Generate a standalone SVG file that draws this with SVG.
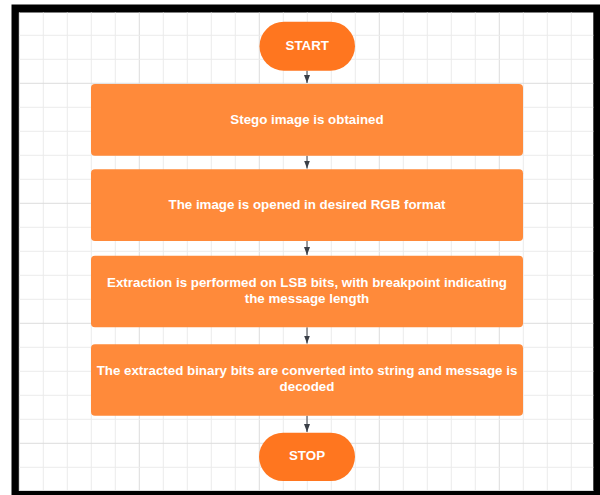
<svg xmlns="http://www.w3.org/2000/svg" width="600" height="495" viewBox="0 0 600 495">
<style>
.g{stroke:#ececec;stroke-width:1}
.gd{stroke:#dcdcdc;stroke-width:1}
.pill{fill:#ff761f}
.box{fill:#ff8a3a}
.t{font-family:"Liberation Sans",Arial,sans-serif;font-weight:bold;font-size:13.33px;fill:#ffffff;text-anchor:middle}
.c{stroke:#3a3f47;stroke-width:1;fill:none}
</style>
<defs>
<marker id="ah" markerWidth="8" markerHeight="6" refX="8" refY="3" orient="auto" markerUnits="userSpaceOnUse" viewBox="0 0 8 6">
<path d="M0,0 L8,3 L0,6 Z" fill="#3a3f47"/>
</marker>
</defs>
<rect x="0" y="0" width="600" height="495" fill="#ffffff"/>
<rect x="11.5" y="4.5" width="590" height="492" fill="#000000"/>
<rect x="19" y="12.5" width="574.3" height="478.5" fill="#ffffff"/>
<g id="grid">
<line class="gd" x1="19.3" y1="12.5" x2="19.3" y2="491"/>
<line class="g" x1="43.3" y1="12.5" x2="43.3" y2="491"/>
<line class="g" x1="67.3" y1="12.5" x2="67.3" y2="491"/>
<line class="g" x1="91.3" y1="12.5" x2="91.3" y2="491"/>
<line class="g" x1="115.3" y1="12.5" x2="115.3" y2="491"/>
<line class="gd" x1="139.3" y1="12.5" x2="139.3" y2="491"/>
<line class="g" x1="163.3" y1="12.5" x2="163.3" y2="491"/>
<line class="g" x1="187.3" y1="12.5" x2="187.3" y2="491"/>
<line class="g" x1="211.3" y1="12.5" x2="211.3" y2="491"/>
<line class="g" x1="235.3" y1="12.5" x2="235.3" y2="491"/>
<line class="gd" x1="259.3" y1="12.5" x2="259.3" y2="491"/>
<line class="g" x1="283.3" y1="12.5" x2="283.3" y2="491"/>
<line class="g" x1="307.3" y1="12.5" x2="307.3" y2="491"/>
<line class="g" x1="331.3" y1="12.5" x2="331.3" y2="491"/>
<line class="g" x1="355.3" y1="12.5" x2="355.3" y2="491"/>
<line class="gd" x1="379.3" y1="12.5" x2="379.3" y2="491"/>
<line class="g" x1="403.3" y1="12.5" x2="403.3" y2="491"/>
<line class="g" x1="427.3" y1="12.5" x2="427.3" y2="491"/>
<line class="g" x1="451.3" y1="12.5" x2="451.3" y2="491"/>
<line class="g" x1="475.3" y1="12.5" x2="475.3" y2="491"/>
<line class="gd" x1="499.3" y1="12.5" x2="499.3" y2="491"/>
<line class="g" x1="523.3" y1="12.5" x2="523.3" y2="491"/>
<line class="g" x1="547.3" y1="12.5" x2="547.3" y2="491"/>
<line class="g" x1="571.3" y1="12.5" x2="571.3" y2="491"/>
<line class="g" x1="19" y1="35.3" x2="593.3" y2="35.3"/>
<line class="g" x1="19" y1="59.3" x2="593.3" y2="59.3"/>
<line class="gd" x1="19" y1="83.3" x2="593.3" y2="83.3"/>
<line class="g" x1="19" y1="107.3" x2="593.3" y2="107.3"/>
<line class="g" x1="19" y1="131.3" x2="593.3" y2="131.3"/>
<line class="g" x1="19" y1="155.3" x2="593.3" y2="155.3"/>
<line class="g" x1="19" y1="179.3" x2="593.3" y2="179.3"/>
<line class="gd" x1="19" y1="203.3" x2="593.3" y2="203.3"/>
<line class="g" x1="19" y1="227.3" x2="593.3" y2="227.3"/>
<line class="g" x1="19" y1="251.3" x2="593.3" y2="251.3"/>
<line class="g" x1="19" y1="275.3" x2="593.3" y2="275.3"/>
<line class="g" x1="19" y1="299.3" x2="593.3" y2="299.3"/>
<line class="gd" x1="19" y1="323.3" x2="593.3" y2="323.3"/>
<line class="g" x1="19" y1="347.3" x2="593.3" y2="347.3"/>
<line class="g" x1="19" y1="371.3" x2="593.3" y2="371.3"/>
<line class="g" x1="19" y1="395.3" x2="593.3" y2="395.3"/>
<line class="g" x1="19" y1="419.3" x2="593.3" y2="419.3"/>
<line class="gd" x1="19" y1="443.3" x2="593.3" y2="443.3"/>
<line class="g" x1="19" y1="467.3" x2="593.3" y2="467.3"/>
<line class="gd" x1="19" y1="490.5" x2="593.3" y2="490.5"/>
</g>
<g id="connectors">
<line class="c" x1="307" y1="70.7" x2="307" y2="83" marker-end="url(#ah)"/>
<line class="c" x1="307" y1="155.7" x2="307" y2="168.5" marker-end="url(#ah)"/>
<line class="c" x1="307" y1="241" x2="307" y2="255" marker-end="url(#ah)"/>
<line class="c" x1="307" y1="327.3" x2="307" y2="343.5" marker-end="url(#ah)"/>
<line class="c" x1="307" y1="415.7" x2="307" y2="432" marker-end="url(#ah)"/>
</g>
<g id="start">
<rect class="pill" x="259.5" y="21.7" width="95.5" height="49" rx="24.5"/>
<text class="t" x="307.3" y="50">START</text>
</g>
<g id="step1">
<rect class="box" x="91" y="84" width="432" height="71.7" rx="4"/>
<text class="t" x="307" y="124">Stego image is obtained</text>
</g>
<g id="step2">
<rect class="box" x="91" y="169.3" width="432" height="71.7" rx="4"/>
<text class="t" x="307" y="209">The image is opened in desired RGB format</text>
</g>
<g id="step3">
<rect class="box" x="91" y="255.7" width="432" height="71.6" rx="4"/>
<text class="t" x="307" y="287">Extraction is performed on LSB bits, with breakpoint indicating</text>
<text class="t" x="307" y="302.5">the message length</text>
</g>
<g id="step4">
<rect class="box" x="91" y="344.3" width="432" height="71.4" rx="4"/>
<text class="t" x="307" y="374.7">The extracted binary bits are converted into string and message is</text>
<text class="t" x="307" y="390.5">decoded</text>
</g>
<g id="stop">
<rect class="pill" x="259" y="432.7" width="96" height="48.3" rx="24.2"/>
<text class="t" x="307" y="460">STOP</text>
</g>
</svg>
